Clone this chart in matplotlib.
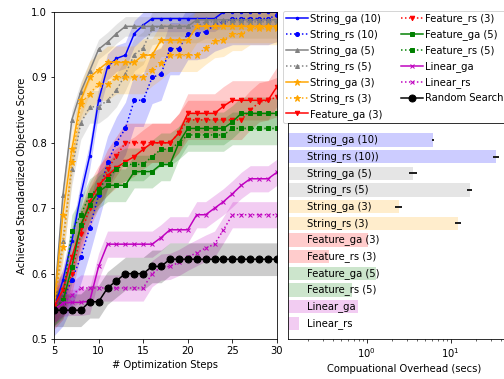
import numpy as np
import matplotlib
matplotlib.use("Agg")
import matplotlib.pyplot as plt

steps = list(range(5, 31))

string_ga_10 = [0.545, 0.59, 0.65, 0.72, 0.78, 0.865, 0.916, 0.929, 0.934, 0.967, 0.98,
                0.99, 0.99, 0.99, 0.99, 0.99, 0.99, 0.99, 0.99,
                1.0, 1.0, 1.0, 1.0, 1.0, 1.0, 1.0]
string_rs_10 = [0.545, 0.56, 0.59, 0.625, 0.67, 0.72, 0.77, 0.80, 0.822, 0.865, 0.865,
                0.90, 0.905, 0.944, 0.944, 0.967, 0.967, 0.97, 0.98, 0.985,
                0.99, 0.99, 0.99, 0.99, 0.99, 0.995]
string_ga_5 = [0.55, 0.72, 0.835, 0.878, 0.91, 0.943, 0.954, 0.967, 0.978,
               0.978, 0.978, 0.978, 0.978, 0.978, 0.978, 0.978,
               0.988, 0.988, 0.988, 0.988, 0.988, 0.988, 0.988, 0.988, 0.988, 0.988]
string_rs_5 = [0.55, 0.65, 0.76, 0.83, 0.855, 0.855, 0.865, 0.88, 0.905, 0.935, 0.945,
               0.975, 0.978, 0.978, 0.978, 0.978, 0.978,
               0.985, 0.985, 0.985, 0.985, 0.985, 0.985, 0.985, 0.985, 0.985]
string_ga_3 = [0.55, 0.69, 0.79, 0.865, 0.90, 0.912, 0.923, 0.923, 0.923, 0.923, 0.934,
               0.934, 0.957, 0.957, 0.957, 0.957,
               0.978, 0.978, 0.978, 0.978, 0.978, 0.978, 0.978, 0.978, 0.978, 0.978]
string_rs_3 = [0.55, 0.64, 0.77, 0.86, 0.875, 0.89, 0.89, 0.90, 0.90, 0.90, 0.90,
               0.912, 0.922, 0.934, 0.934, 0.934, 0.934, 0.945, 0.955, 0.957,
               0.966, 0.966, 0.975, 0.975, 0.975, 0.975]
feature_ga_3 = [0.55, 0.575, 0.625, 0.67, 0.71, 0.735, 0.75, 0.762, 0.771, 0.779, 0.79,
                0.80, 0.80, 0.80, 0.815, 0.845, 0.845, 0.845, 0.845, 0.856,
                0.865, 0.865, 0.865, 0.865, 0.865, 0.886]
feature_rs_3 = [0.545, 0.56, 0.60, 0.66, 0.70, 0.73, 0.76, 0.78,
                0.80, 0.80, 0.80, 0.80, 0.80, 0.80, 0.815,
                0.835, 0.835, 0.835, 0.835, 0.835, 0.835, 0.835,
                0.85, 0.862, 0.865, 0.87]
feature_ga_5 = [0.545, 0.557, 0.61, 0.675, 0.705, 0.725, 0.735, 0.735, 0.735,
                0.756, 0.756, 0.756, 0.767, 0.767, 0.80,
                0.822, 0.822, 0.822, 0.822, 0.822, 0.832,
                0.845, 0.845, 0.845, 0.845, 0.845]
feature_rs_5 = [0.545, 0.56, 0.665, 0.69, 0.72, 0.73, 0.745, 0.76, 0.767, 0.767, 0.767,
                0.779, 0.79, 0.79, 0.80, 0.812, 0.812, 0.812, 0.812, 0.812,
                0.822, 0.822, 0.822, 0.822, 0.822, 0.822]
linear_ga = [0.545, 0.555, 0.556, 0.556, 0.558, 0.611,
             0.645, 0.645, 0.645, 0.645, 0.645, 0.645, 0.655,
             0.667, 0.667, 0.667, 0.69, 0.69, 0.70, 0.71, 0.722, 0.735,
             0.745, 0.745, 0.745, 0.755]
linear_rs = [0.545, 0.555, 0.567, 0.578, 0.578, 0.578, 0.578, 0.578, 0.578, 0.578, 0.578,
             0.60, 0.61, 0.611, 0.617, 0.625, 0.632, 0.639, 0.645, 0.667,
             0.69, 0.69, 0.69, 0.69, 0.69, 0.69]
random_search = [0.544, 0.544, 0.544, 0.544, 0.557, 0.557, 0.578, 0.589, 0.60, 0.60, 0.60,
                 0.611, 0.611, 0.622, 0.622, 0.622, 0.622, 0.622, 0.622, 0.622,
                 0.622, 0.622, 0.622, 0.622, 0.622, 0.622]

# label, values, half width of shaded band, color, linestyle, marker, marker size
series = [
    ("String_ga (10)", string_ga_10, 0.02, "blue", "-", ".", 5),
    ("String_rs (10)", string_rs_10, 0.04, "blue", ":", "o", 4),
    ("String_ga (5)", string_ga_5, 0.015, "gray", "-", "^", 4),
    ("String_rs (5)", string_rs_5, 0.025, "gray", ":", "^", 4),
    ("String_ga (3)", string_ga_3, 0.025, "orange", "-", "*", 6.5),
    ("String_rs (3)", string_rs_3, 0.025, "orange", ":", "*", 6.5),
    ("Feature_ga (3)", feature_ga_3, 0.03, "red", "-", "v", 4.5),
    ("Feature_rs (3)", feature_rs_3, 0.03, "red", ":", "v", 4.5),
    ("Feature_ga (5)", feature_ga_5, 0.025, "green", "-", "s", 4),
    ("Feature_rs (5)", feature_rs_5, 0.025, "green", ":", "s", 4),
    ("Linear_ga", linear_ga, 0.02, "m", "-", "x", 4.5),
    ("Linear_rs", linear_rs, 0.02, "m", ":", "x", 4.5),
    ("Random Search", random_search, 0.025, "black", "-", "o", 7),
]

bar_labels = ["String_ga (10)", "String_rs (10))", "String_ga (5)", "String_rs (5)",
              "String_ga (3)", "String_rs (3)", "Feature_ga (3)", "Feature_rs (3)",
              "Feature_ga (5)", "Feature_rs (5)", "Linear_ga", "Linear_rs"]
overhead = [6.2, 35.0, 3.6, 16.8, 2.4, 12.3, 1.05, 0.36, 1.29, 0.66, 0.78, 0.155]
overhead_err = [0.2, 2.7, 0.4, 1.3, 0.25, 1.0, 0, 0, 0, 0, 0, 0]
bar_colors = ["blue", "blue", "gray", "gray", "orange", "orange",
              "red", "red", "green", "green", "m", "m"]

W, H = 504, 379
fig = plt.figure(figsize=(W / 72, H / 72), dpi=72)
ax = fig.add_axes([54 / W, 40 / H, 223 / W, 327 / H])

x = np.array(steps)
for label, vals, sd, color, ls, mk, ms in series:
    vals = np.array(vals)
    ax.plot(x, vals, color=color, linestyle=ls, marker=mk, markersize=ms,
            linewidth=1.5, label=label)
    ax.fill_between(x, vals - sd, vals + sd, color=color, alpha=0.2, linewidth=0)

ax.set_xlim(5, 30)
ax.set_ylim(0.5, 1.0)
ax.set_xticks([5, 10, 15, 20, 25, 30])
ax.set_yticks([0.5, 0.6, 0.7, 0.8, 0.9, 1.0])
ax.set_xlabel("# Optimization Steps", fontsize=10)
ax.set_ylabel("Achieved Standardized Objective Score", fontsize=10)
ax.tick_params(labelsize=10)

ax.legend(ncol=2, loc="upper left", bbox_to_anchor=(283 / W, 1 - 10.5 / H),
          bbox_transform=fig.transFigure, borderaxespad=0, fontsize=10,
          handlelength=2.2, handletextpad=0.2, columnspacing=1.9,
          borderpad=0.3, labelspacing=0.5)

# inset with computational overhead
ax2 = fig.add_axes([288 / W, 40 / H, 232 / W, 216 / H])
ypos = np.arange(len(bar_labels))
ax2.barh(ypos, overhead, height=0.8, color=bar_colors, alpha=0.2)
ax2.errorbar(overhead, ypos, xerr=overhead_err, fmt="none", ecolor="#222222",
             elinewidth=2, capsize=0)
ax2.set_xscale("log")
ax2.set_xlim(0.1157, 66.8)
ax2.set_ylim(11.94, -1.02)
ax2.set_yticks([])
for yy, lab in zip(ypos, bar_labels):
    ax2.text(0.195, yy, lab, va="center", ha="left", fontsize=10)
ax2.set_xlabel("Compuational Overhead (secs)", fontsize=10)
ax2.tick_params(labelsize=10)

fig.savefig("out.png", dpi=72)
